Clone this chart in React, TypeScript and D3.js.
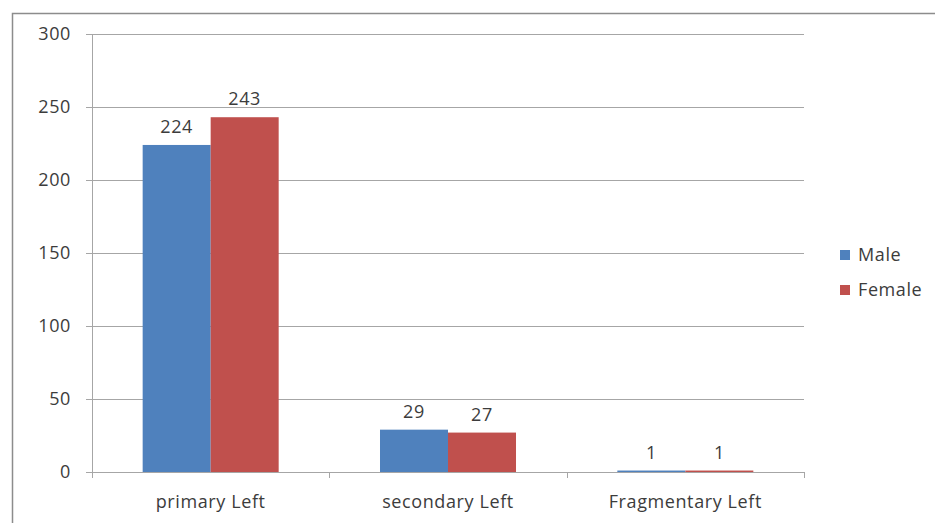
import { useEffect, useRef } from "react";
import * as d3 from "d3";

const categories = ["primary Left", "secondary Left", "Fragmentary Left"];
const series = ["Male", "Female"];
const maleValues = [224, 29, 1];
const femaleValues = [243, 27, 1];
const yTicks = [0, 50, 100, 150, 200, 250, 300];
const colors = ["#4F81BD", "#C0504D"];

export default function App() {
  const svgRef = useRef<SVGSVGElement>(null);

  useEffect(() => {
    if (!svgRef.current) return;
    const svg = d3.select(svgRef.current);
    svg.selectAll("*").remove();

    const margin = { top: 34, left: 92, right: 804, bottom: 472 };
    const font = "'Open Sans', 'Liberation Sans', sans-serif";
    const textColor = "#3c3c3c";
    const fontSize = 18;

    // outer frame
    svg
      .append("rect")
      .attr("x", 12.5)
      .attr("y", 13.5)
      .attr("width", 940)
      .attr("height", 540)
      .attr("fill", "white")
      .attr("stroke", "#8c8c8c")
      .attr("stroke-width", 1.5);

    const x0 = d3.scaleBand().domain(categories).range([margin.left, margin.right]).paddingInner(0).paddingOuter(0);
    const x1 = d3.scaleBand().domain(series).range([0, x0.bandwidth()]).paddingInner(0).paddingOuter(0.745);
    const y = d3.scaleLinear().domain([0, 300]).range([margin.bottom, margin.top]);

    // gridlines
    svg
      .append("g")
      .selectAll("line")
      .data(yTicks)
      .enter()
      .append("line")
      .attr("x1", margin.left - 6)
      .attr("x2", margin.right)
      .attr("y1", (d) => Math.round(y(d)) + 0.5)
      .attr("y2", (d) => Math.round(y(d)) + 0.5)
      .attr("stroke", "#a6a6a6")
      .attr("stroke-width", 1);

    // y axis line
    svg
      .append("line")
      .attr("x1", margin.left + 0.5)
      .attr("x2", margin.left + 0.5)
      .attr("y1", margin.top)
      .attr("y2", margin.bottom + 6)
      .attr("stroke", "#a6a6a6");

    // category tick marks on x axis
    svg
      .append("g")
      .selectAll("line")
      .data(categories)
      .enter()
      .append("line")
      .attr("x1", (d) => Math.round((x0(d) ?? 0) + x0.bandwidth()) + 0.5)
      .attr("x2", (d) => Math.round((x0(d) ?? 0) + x0.bandwidth()) + 0.5)
      .attr("y1", margin.bottom)
      .attr("y2", margin.bottom + 6)
      .attr("stroke", "#a6a6a6");

    // y labels
    svg
      .append("g")
      .selectAll("text")
      .data(yTicks)
      .enter()
      .append("text")
      .attr("x", 71)
      .attr("y", (d) => y(d))
      .attr("dy", "0.35em")
      .attr("text-anchor", "end")
      .attr("font-family", font)
      .attr("font-size", fontSize)
      .attr("letter-spacing", 0.6)
      .attr("fill", textColor)
      .text((d) => d);

    // x labels
    svg
      .append("g")
      .selectAll("text")
      .data(categories)
      .enter()
      .append("text")
      .attr("x", (d) => (x0(d) ?? 0) + x0.bandwidth() / 2)
      .attr("y", 502)
      .attr("dy", "0.35em")
      .attr("text-anchor", "middle")
      .attr("font-family", font)
      .attr("font-size", fontSize)
      .attr("letter-spacing", 0.6)
      .attr("fill", textColor)
      .text((d) => d);

    const rows = categories.flatMap((c, i) => [
      { category: c, key: series[0], value: maleValues[i], color: colors[0] },
      { category: c, key: series[1], value: femaleValues[i], color: colors[1] },
    ]);

    svg
      .append("g")
      .selectAll("rect")
      .data(rows)
      .enter()
      .append("rect")
      .attr("x", (d) => (x0(d.category) ?? 0) + (x1(d.key) ?? 0))
      .attr("y", (d) => y(d.value))
      .attr("width", x1.bandwidth())
      .attr("height", (d) => Math.max(1.5, margin.bottom - y(d.value)))
      .attr("fill", (d) => d.color);

    svg
      .append("g")
      .selectAll("text")
      .data(rows)
      .enter()
      .append("text")
      .attr("x", (d) => (x0(d.category) ?? 0) + (x1(d.key) ?? 0) + x1.bandwidth() / 2)
      .attr("y", (d) => y(d.value) - 12)
      .attr("text-anchor", "middle")
      .attr("font-family", font)
      .attr("font-size", fontSize)
      .attr("letter-spacing", 0.6)
      .attr("fill", textColor)
      .text((d) => d.value);

    // legend
    const legend = svg
      .append("g")
      .selectAll("g")
      .data(series)
      .enter()
      .append("g")
      .attr("transform", (_d, i) => `translate(840,${250 + i * 35})`);
    legend
      .append("rect")
      .attr("width", 10)
      .attr("height", 10)
      .attr("fill", (_d, i) => colors[i]);
    legend
      .append("text")
      .attr("x", 18)
      .attr("y", 5)
      .attr("dy", "0.35em")
      .attr("font-family", font)
      .attr("font-size", fontSize)
      .attr("letter-spacing", 0.6)
      .attr("fill", textColor)
      .text((d) => d);
  }, []);

  return (
    <div style={{ position: "absolute", left: 0, top: 0, width: 935, height: 523, overflow: "hidden", background: "white" }}>
      <svg ref={svgRef} width={935} height={523} />
    </div>
  );
}
